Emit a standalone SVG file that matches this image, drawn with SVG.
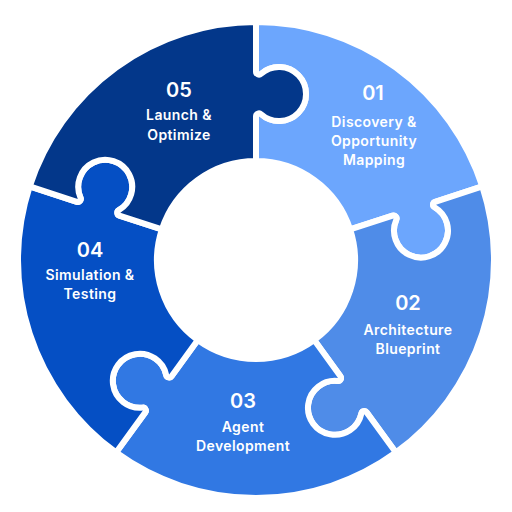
<svg xmlns="http://www.w3.org/2000/svg" width="512" height="512" viewBox="0 0 512 512">
<defs>
<path id="piece" d="M0,-99 L0,-143.64 A3,3 0 0 1 5,-145.88 A27,27 0 1 0 5,-186.12 A3,3 0 0 1 0,-188.36 L0,-238 A238,238 0 0 0 -226.352,-73.546 L-179.141,-58.207 A3,3 0 0 0 -175.466,-62.269 A27,27 0 1 1 -137.195,-49.834 A3,3 0 0 0 -136.61,-44.387 L-94.155,-30.593 A99,99 0 0 1 0,-99 Z"/>
</defs>
<style>
.pc{stroke:#ffffff;stroke-width:6;stroke-linejoin:round}
.num{font-family:Inter,"Noto Sans",sans-serif;font-weight:600;font-size:20px;fill:#ffffff;text-anchor:middle}
.lbl{font-family:Inter,"Noto Sans",sans-serif;font-weight:600;font-size:14px;letter-spacing:0.4px;fill:#ffffff;text-anchor:middle}
</style>
<rect width="512" height="512" fill="#ffffff"/>
<g id="connectors"/>
<g id="node-01">
<use href="#piece" class="pc" fill="#6CA6FD" transform="translate(256 260) rotate(72)"/>
<text class="num" x="373" y="100">01</text>
<text class="lbl" x="374" y="127">Discovery &amp;</text>
<text class="lbl" x="374" y="146">Opportunity</text>
<text class="lbl" x="374" y="165">Mapping</text>
</g>
<g id="node-02">
<use href="#piece" class="pc" fill="#4F8CE8" transform="translate(256 260) rotate(144)"/>
<text class="num" x="408" y="310">02</text>
<text class="lbl" x="408" y="335">Architecture</text>
<text class="lbl" x="408" y="354">Blueprint</text>
</g>
<g id="node-03">
<use href="#piece" class="pc" fill="#3178E3" transform="translate(256 260) rotate(216)"/>
<text class="num" x="243" y="408">03</text>
<text class="lbl" x="243" y="432">Agent</text>
<text class="lbl" x="243" y="451">Development</text>
</g>
<g id="node-04">
<use href="#piece" class="pc" fill="#054FC4" transform="translate(256 260) rotate(288)"/>
<text class="num" x="90" y="257">04</text>
<text class="lbl" x="90" y="280">Simulation &amp;</text>
<text class="lbl" x="90" y="299">Testing</text>
</g>
<g id="node-05">
<use href="#piece" class="pc" fill="#03378A" transform="translate(256 260)"/>
<text class="num" x="179" y="97">05</text>
<text class="lbl" x="179" y="120">Launch &amp;</text>
<text class="lbl" x="179" y="140">Optimize</text>
</g>
</svg>
